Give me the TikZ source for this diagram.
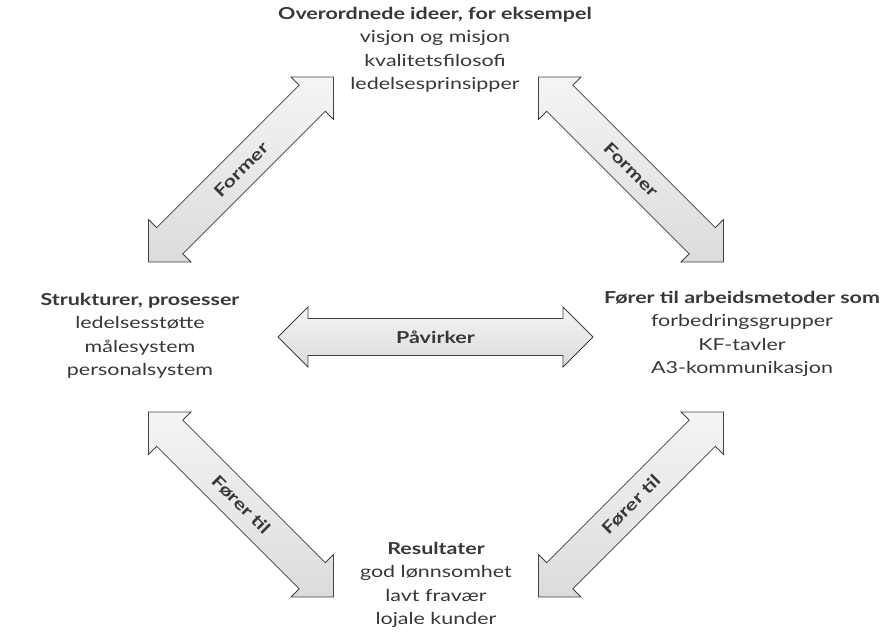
\documentclass[tikz,border=0pt]{standalone}
\usepackage{fontspec}
\setmainfont{Lato}[FakeStretch=1.3]
\usetikzlibrary{positioning}

\colorlet{tekst}{black!78}
\colorlet{kant}{black!75}

\tikzset{
  blokk/.style={align=center, inner sep=0pt, text=tekst, font=\fontsize{16.5}{23.5}\selectfont},
  pilkant/.style={draw=kant, line width=0.8pt, top color=black!4, bottom color=black!14},
  piltekst/.style={inner sep=0pt, text=tekst, font=\fontsize{16.5}{18}\selectfont\bfseries},
  % tykk dobbeltpil, #1 = lengde, #2 = tekst
  pics/pil/.style 2 args={code={
    \draw[pilkant] ({-#1/2},0) -- ({-#1/2+30},30) -- ({-#1/2+30},18.5) -- ({#1/2-30},18.5)
      -- ({#1/2-30},30) -- ({#1/2},0) -- ({#1/2-30},-30) -- ({#1/2-30},-18.5)
      -- ({-#1/2+30},-18.5) -- ({-#1/2+30},-30) -- cycle;
    \node[piltekst, transform shape] (-tekst) {#2};
  }}
}

\begin{document}
\begin{tikzpicture}[x=1pt, y=1pt]
  % bakgrunn
  \fill[white] (0,0) rectangle (884,634);

  % tekstblokker (base = siste linje)
  \node[blokk, anchor=base] (ideer) at (435,544)
    {\textbf{Overordnede ideer, for eksempel}\\visjon og misjon\\kvalitetsfilosofi\\ledelsesprinsipper};
  \node[blokk, anchor=base] (strukturer) at (140,258)
    {\textbf{Strukturer, prosesser}\\ledelsesstøtte\\målesystem\\personalsystem};
  \node[blokk, anchor=base] (metoder) at (742,260)
    {\textbf{Fører til arbeidsmetoder som}\\forbedringsgrupper\\KF-tavler\\A3-kommunikasjon};
  \node[blokk, anchor=base] (resultater) at (436,9)
    {\textbf{Resultater}\\god lønnsomhet\\lavt fravær\\lojale kunder};

  % midtpunkt for pilene
  \coordinate (m-tv) at (241,464.5);
  \coordinate (m-th) at (631,464.5);
  \coordinate (m-bv) at (241,129.5);
  \coordinate (m-bh) at (631,129.5);
  \coordinate (m-mid) at (435.5,297);

  % pilene
  \pic[rotate=45] (tv) at (m-tv) {pil={261.6}{Former}};
  \pic[rotate=-45] (th) at (m-th) {pil={261.6}{Former}};
  \pic[rotate=-45] (bv) at (m-bv) {pil={261.6}{Fører til}};
  \pic[rotate=45] (bh) at (m-bh) {pil={261.6}{Fører til}};
  \pic (mid) at (m-mid) {pil={315}{Påvirker}};
\end{tikzpicture}
\end{document}
